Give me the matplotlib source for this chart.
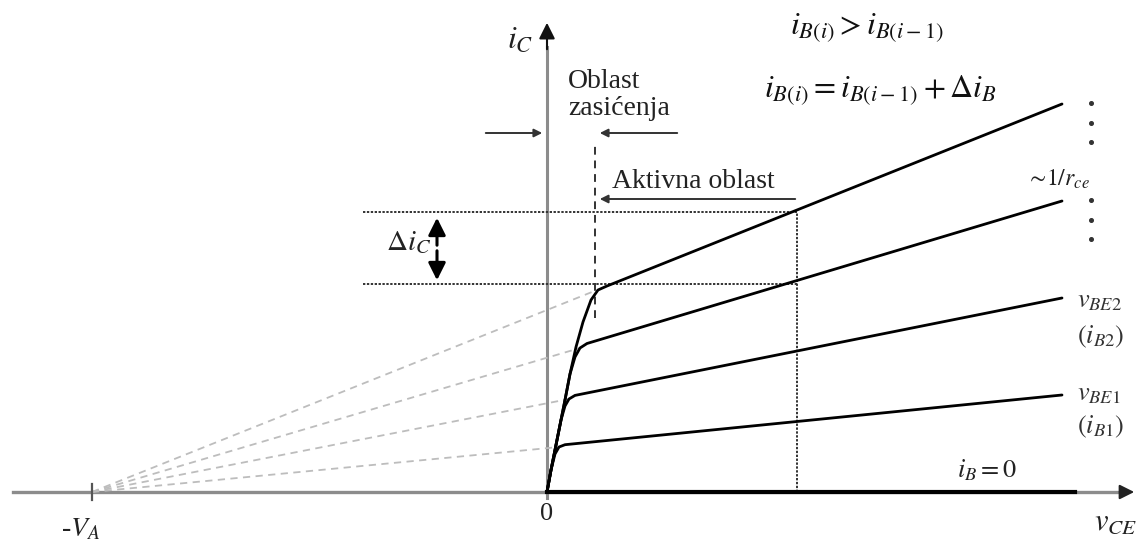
import matplotlib.pyplot as plt

plt.rcParams['mathtext.fontset'] = 'stix'
plt.rcParams['font.family'] = ['Liberation Serif', 'DejaVu Serif']

# Early voltage: all active-region lines meet the v_CE axis at -V_A
V_A = 455

# output curves i_C(v_CE), one per base current (i_B1 .. i_B4)
curve_v = [
    [0, 4, 8, 12, 18, 515],
    [0, 4, 9, 14, 18, 22, 28, 515],
    [0, 4, 9, 14, 18, 23, 28, 33, 40, 515],
    [0, 4, 9, 14, 18, 23, 29, 36, 44, 51, 60, 515],
]
curve_i = [
    [0, 22, 38, 45, 47.3, 97],
    [0, 22, 47, 72, 86, 93, 96.6, 194],
    [0, 22, 47, 72, 92, 118, 135, 144, 148.5, 291],
    [0, 22, 47, 72, 92, 118, 145, 170, 192, 202, 206, 388],
]
# knee points where the dashed extrapolations end
knee_v = [12, 22, 33, 50]
knee_i = [45, 93, 144, 202]

v_max = 528          # end of the i_B = 0 line
v_sat = 48           # saturation / active boundary
v_op = 250           # operating point for delta i_C
ic_hi, ic_lo = 280, 208

fig = plt.figure(figsize=(11.37, 5.47), dpi=100)
ax = fig.add_axes([0, 0, 1, 1])
ax.set_xlim(-547, 590)
ax.set_ylim(-55, 492)
ax.axis('off')

axis_col = '#8c8c8c'
# v_CE axis and i_C axis
ax.plot([-534, 578], [0, 0], color=axis_col, lw=2.4, zorder=1)
ax.annotate('', xy=(590, 0), xytext=(570, 0),
            arrowprops=dict(arrowstyle='-|>', color='#222222', lw=1.5,
                            mutation_scale=22))
ax.plot([0, 0], [-6, 445], color=axis_col, lw=2.2, zorder=1)
ax.annotate('', xy=(0, 472), xytext=(0, 440),
            arrowprops=dict(arrowstyle='-|>', color='#111111', lw=1.5,
                            mutation_scale=24))
ax.plot([-V_A, -V_A], [-8, 8], color='#555555', lw=1.6)

# dashed extrapolations to -V_A
for kv, ki in zip(knee_v, knee_i):
    ax.plot([-V_A, kv], [0, ki], color='#bdbdbd', lw=1.3,
            ls=(0, (4, 3)), zorder=1)

# characteristic curves
for cv, ci in zip(curve_v, curve_i):
    ax.plot(cv, ci, color='black', lw=2.0, solid_joinstyle='round',
            solid_capstyle='round', zorder=3)
ax.plot([0, v_max], [0, 0], color='black', lw=3.0, zorder=3)

# delta i_C construction
for y in (ic_hi, ic_lo):
    ax.plot([-184, v_op], [y, y], color='#333333', lw=1.4,
            ls=(0, (1.2, 0.8)), zorder=2)
ax.plot([v_op, v_op], [0, ic_hi], color='#333333', lw=1.4,
        ls=(0, (1.2, 0.8)), zorder=2)
ax.plot([v_sat, v_sat], [174, 350], color='#333333', lw=1.4,
        ls=(0, (4, 3)), zorder=2)
ax.annotate('', xy=(-110, ic_hi - 3), xytext=(-110, (ic_hi + ic_lo) / 2),
            arrowprops=dict(arrowstyle='-|>', color='black', lw=2.2,
                            mutation_scale=26))
ax.annotate('', xy=(-110, ic_lo + 1), xytext=(-110, (ic_hi + ic_lo) / 2),
            arrowprops=dict(arrowstyle='-|>', color='black', lw=2.2,
                            mutation_scale=26))

# region arrows
arr = dict(arrowstyle='-|>', color='#333333', lw=1.4, mutation_scale=12)
ax.annotate('', xy=(-2, 359), xytext=(-64, 359), arrowprops=arr)
ax.annotate('', xy=(v_sat + 2, 359), xytext=(133, 359), arrowprops=arr)
ax.annotate('', xy=(v_sat + 2, 293), xytext=(v_op + 1, 293), arrowprops=arr)

# labels
ax.text(21, 404, 'Oblast', fontsize=20, ha='left', va='baseline',
        color='#222222')
ax.text(21, 377, 'zasićenja', fontsize=20, ha='left', va='baseline',
        color='#222222')
ax.text(65, 304, 'Aktivna oblast', fontsize=20, ha='left', va='baseline',
        color='#222222')
ax.text(-27, 452, r'$i_C$', fontsize=23, ha='center', va='center',
        color='#222222')
ax.text(0, -22, '0', fontsize=19, ha='center', va='center', color='#222222')
ax.text(-466, -38, r'-$V_A$', fontsize=20, ha='center', va='center',
        color='#222222')
ax.text(590, -30, r'$v_{CE}$', fontsize=22, ha='right', va='center',
        color='#222222')
ax.text(-138, 249, r'$\Delta i_C$', fontsize=21, ha='center', va='center',
        color='#222222')
ax.text(320, 464, r'$i_{B(i)} > i_{B(i-1)}$', fontsize=23, ha='center',
        va='center', color='#111111')
ax.text(333, 402, r'$i_{B(i)} = i_{B(i-1)} + \Delta i_B$', fontsize=23,
        ha='center', va='center', color='#111111')
ax.text(511, 313, r'$\sim\!1/r_{ce}$', fontsize=17, ha='center',
        va='center', color='#222222')
ax.text(530, 190, r'$v_{BE2}$', fontsize=19, ha='left', va='center',
        color='#333333')
ax.text(530, 155, r'$(i_{B2})$', fontsize=19, ha='left', va='center',
        color='#333333')
ax.text(530, 97, r'$v_{BE1}$', fontsize=19, ha='left', va='center',
        color='#333333')
ax.text(530, 65, r'$(i_{B1})$', fontsize=19, ha='left', va='center',
        color='#333333')
ax.text(440, 22, r'$i_B = 0$', fontsize=19, ha='center', va='center',
        color='#222222')

# continuation dots for higher base currents
dot_v = [544, 544, 544, 544, 544, 544]
dot_i = [389, 369, 350, 292, 272, 253]
ax.plot(dot_v, dot_i, ls='none', marker='o', ms=2.6, color='#333333')

fig.savefig('out.png', dpi=100)
